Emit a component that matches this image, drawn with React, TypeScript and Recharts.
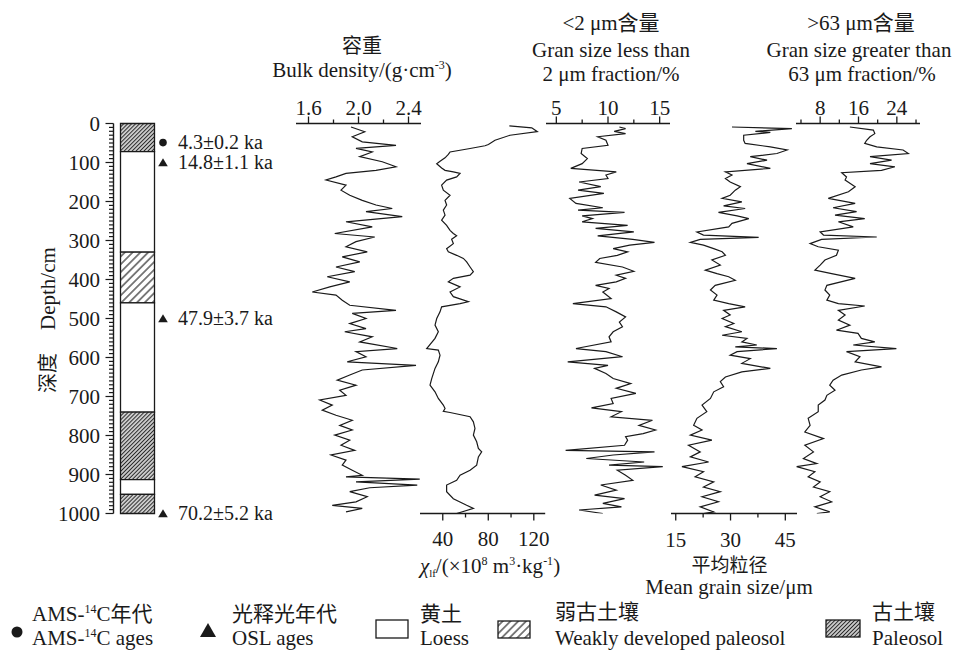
import React from 'react';
import { LineChart, Line, XAxis, YAxis, ComposedChart, ReferenceArea, ReferenceDot } from 'recharts';

const W = 957;
const H = 654;
const PLOT_TOP = 123.5;
const PLOT_BOTTOM = 513.5;
const SERIF = '"Liberation Serif", "Times New Roman", "Noto Sans CJK SC", serif';
const INK = '#1a1a1a';

// ---------- stratigraphy ----------
const layerTops = [0, 72, 330, 460, 740, 913, 951];
const layerBottoms = [72, 330, 460, 740, 913, 951, 1000];
const layerTypes = ['paleosol', 'loess', 'weak', 'loess', 'paleosol', 'loess', 'paleosol'];

const ageDepths = [49, 100, 500, 1000];
const ageLabels = ['4.3±0.2 ka', '14.8±1.1 ka', '47.9±3.7 ka', '70.2±5.2 ka'];
const ageKinds = ['AMS', 'OSL', 'OSL', 'OSL'];

const depthMajor = [0, 100, 200, 300, 400, 500, 600, 700, 800, 900, 1000];
const depthTicks = Array.from({ length: 101 }, (_, i) => i * 10);

// ---------- bulk density (g/cm3) ----------
const bdDepth = [9, 21, 34, 47, 56, 64, 73, 85, 98, 111, 120, 128, 137, 145, 158, 171, 184, 197, 209, 218, 226, 239, 252, 265, 282, 291, 303, 316, 329, 342, 355, 368, 380, 393, 406, 419, 432, 440, 453, 466, 479, 487, 500, 513, 526, 534, 547, 560, 577, 585, 598, 611, 620, 632, 645, 658, 671, 684, 697, 709, 722, 735, 748, 761, 774, 786, 799, 812, 825, 838, 850, 863, 876, 889, 902, 906, 912, 919, 927, 934, 944, 957, 970, 979, 987, 996];
const bdValue = [1.94, 2.05, 1.95, 2.03, 2.30, 1.98, 2.11, 2.01, 2.19, 2.30, 2.14, 1.90, 1.82, 1.74, 1.90, 1.86, 1.93, 2.03, 2.14, 2.27, 2.06, 2.35, 1.90, 2.11, 1.81, 2.13, 1.98, 1.90, 2.07, 1.87, 2.01, 1.82, 1.97, 1.75, 1.93, 1.77, 1.63, 1.82, 1.87, 1.93, 2.30, 1.95, 2.06, 1.93, 2.06, 1.89, 2.11, 2.01, 2.31, 1.98, 2.06, 1.91, 2.46, 2.03, 1.93, 1.83, 1.98, 1.85, 1.90, 1.69, 1.79, 1.71, 1.82, 1.95, 1.85, 1.95, 1.81, 1.93, 1.86, 1.97, 1.78, 1.90, 1.87, 1.95, 2.03, 1.90, 2.49, 1.98, 2.47, 2.09, 1.93, 2.07, 1.98, 1.79, 2.03, 1.90];
const bdTicks = [1.6, 1.8, 2.0, 2.2, 2.4];
const bdMajor = [1.6, 2.0, 2.4];

// ---------- magnetic susceptibility ----------
const msDepth = [6, 11, 21, 30, 43, 54, 57, 64, 73, 79, 88, 97, 103, 114, 120, 124, 128, 137, 145, 158, 171, 184, 197, 209, 222, 235, 248, 261, 274, 282, 288, 297, 308, 321, 329, 338, 346, 355, 368, 380, 389, 397, 406, 419, 432, 444, 457, 462, 470, 483, 500, 517, 534, 551, 577, 581, 594, 611, 628, 654, 671, 688, 705, 722, 731, 738, 741, 752, 765, 782, 799, 816, 833, 842, 855, 876, 889, 902, 915, 927, 944, 962, 979, 987, 1000];
const msValue = [98.5, 118.2, 123.1, 99.1, 85.9, 80.1, 77.1, 64.0, 46.4, 44.9, 42.0, 37.6, 34.7, 39.0, 42.0, 49.3, 55.2, 52.2, 43.4, 39.0, 40.5, 46.4, 42.0, 43.4, 40.5, 42.0, 39.0, 43.4, 46.4, 49.3, 52.2, 47.8, 49.3, 43.4, 44.9, 52.2, 58.1, 61.0, 64.0, 66.9, 64.0, 49.3, 44.9, 55.2, 46.4, 49.3, 62.5, 55.2, 39.0, 37.6, 34.7, 33.2, 36.1, 33.2, 25.9, 36.1, 37.6, 36.1, 33.2, 30.3, 28.8, 33.2, 36.1, 40.5, 42.0, 40.5, 46.4, 64.0, 66.9, 68.3, 66.9, 69.8, 71.3, 74.2, 71.3, 69.8, 64.0, 55.2, 52.2, 43.4, 43.4, 49.3, 61.0, 66.9, 52.2];
const msTicks = [40, 60, 80, 100, 120];
const msMajor = [40, 80, 120];

// ---------- < 2 um fraction (%) ----------
const clayDepth = [9, 13, 20, 26, 34, 43, 56, 64, 77, 90, 103, 115, 124, 132, 141, 150, 162, 171, 179, 192, 205, 216, 222, 228, 237, 244, 252, 261, 269, 278, 288, 297, 305, 312, 321, 329, 338, 346, 356, 368, 379, 389, 397, 406, 415, 423, 432, 449, 462, 470, 483, 496, 509, 521, 534, 547, 560, 577, 585, 598, 611, 620, 628, 641, 654, 667, 679, 692, 705, 718, 729, 739, 752, 761, 774, 786, 795, 803, 812, 825, 838, 842, 850, 859, 868, 876, 880, 889, 902, 915, 927, 940, 953, 962, 974, 983, 991, 1000];
const clayValue = [11.1, 11.7, 10.6, 11.7, 9.0, 9.8, 10.0, 7.5, 7.4, 8.0, 7.5, 6.4, 10.8, 9.8, 10.0, 7.2, 9.3, 7.1, 9.6, 6.3, 6.9, 9.5, 7.1, 11.6, 7.5, 8.5, 7.5, 11.9, 8.8, 12.5, 9.0, 12.4, 14.5, 12.1, 10.5, 11.9, 10.9, 9.2, 8.8, 11.4, 12.5, 10.8, 11.7, 10.8, 8.8, 10.1, 9.5, 10.3, 6.6, 9.8, 10.8, 11.7, 11.1, 11.4, 10.5, 10.1, 10.3, 6.9, 9.8, 11.4, 6.1, 10.0, 8.7, 9.8, 10.5, 12.2, 10.8, 12.7, 10.3, 10.5, 8.4, 11.3, 10.3, 14.3, 13.0, 14.6, 13.4, 11.7, 11.9, 11.6, 5.9, 14.5, 10.5, 7.9, 13.5, 10.1, 15.3, 10.9, 11.7, 12.4, 9.3, 10.8, 8.7, 11.6, 9.5, 11.3, 7.2, 9.5];
const clayTicks = [5, 7.5, 10, 12.5, 15];
const clayMajor = [5, 10, 15];

// ---------- mean grain size (um) ----------
const mgsDepth = [9, 13, 20, 23, 30, 43, 51, 60, 68, 77, 85, 94, 103, 115, 124, 132, 141, 150, 155, 162, 171, 184, 192, 201, 211, 218, 228, 237, 244, 256, 265, 278, 286, 292, 297, 305, 312, 321, 329, 338, 350, 363, 376, 385, 393, 402, 408, 415, 427, 440, 453, 462, 470, 479, 491, 500, 513, 521, 534, 543, 551, 560, 568, 573, 577, 585, 594, 603, 615, 628, 637, 650, 662, 675, 688, 705, 722, 739, 756, 774, 786, 799, 812, 825, 842, 855, 868, 880, 893, 906, 919, 932, 944, 957, 970, 983, 996, 1000];
const mgsValue = [30.4, 46.8, 36.8, 40.9, 33.6, 33.6, 34.0, 40.9, 45.5, 42.7, 35.4, 40.0, 34.5, 40.9, 28.6, 30.4, 28.6, 29.9, null, 32.7, 31.3, 29.9, 27.7, 33.1, 28.1, 34.0, 26.7, 31.8, 35.0, 30.4, 29.5, 20.8, 22.6, 37.7, 21.7, 19.0, 22.6, 25.4, 27.7, 28.6, 24.9, 27.2, 23.1, 26.3, 29.5, 31.3, null, 25.8, 24.5, 26.3, 25.4, 29.5, 34.0, 28.1, 29.9, 27.7, 30.9, 28.6, 33.1, 27.7, 34.5, 33.1, 37.2, 31.3, 42.7, 31.8, 29.9, 35.4, 33.1, 40.9, 33.1, 28.6, 27.2, 28.1, 25.4, 24.5, 22.2, 23.5, 20.8, 19.9, 22.2, 19.0, 24.9, 18.5, 21.7, 19.0, 24.0, 16.7, 22.6, 20.3, 25.4, 22.6, 27.2, 22.2, 26.7, 21.7, 25.4, 22.6];
const mgsTicks = [15, 22.5, 30, 37.5, 45];
const mgsMajor = [15, 30, 45];

// ---------- > 63 um fraction (%) ----------
const sandDepth = [9, 17, 26, 34, 43, 51, 60, 68, 77, 85, 94, 103, 111, 120, 126, 137, 145, 152, 162, 175, 192, 205, 216, 226, 235, 244, 252, 265, 278, 286, 291, 297, 308, 316, 325, 338, 350, 363, 376, 385, 397, 406, 415, 427, 440, 453, 462, 468, 479, 491, 504, 517, 530, 538, 551, 560, 568, 577, 585, 598, 611, 624, 632, 645, 658, 671, 684, 697, 709, 722, 739, 756, 774, 791, 808, 825, 842, 859, 872, 880, 893, 906, 919, 932, 944, 957, 970, 983, 996, 1000];
const sandValue = [14.2, 19.1, 19.4, 18.4, 17.7, 17.3, 19.8, 25.3, 26.4, 18.4, 22.9, 18.4, 23.6, 20.8, 12.5, 13.5, 13.2, null, 15.3, 13.9, 9.7, 15.3, 10.7, 15.6, 11.1, 17.3, 11.8, 14.9, 8.0, 8.7, 19.8, 8.3, 5.9, 7.6, 11.8, 11.4, 9.0, 8.0, 6.9, 10.4, 15.3, null, 9.4, 9.0, 10.0, 9.4, 11.8, 17.3, 11.8, 13.2, 11.8, 14.2, 11.4, 15.9, 16.6, 19.4, 14.9, 23.9, 13.5, 16.3, 15.3, 20.8, 16.6, 12.5, 10.7, 10.0, 11.1, 9.4, 9.0, 7.6, 7.6, 5.5, 5.9, 4.8, 8.7, 4.8, 6.6, 4.5, 7.3, 3.1, 6.9, 5.5, 8.0, 6.6, 10.0, 8.0, 10.4, 6.9, 10.0, 7.3];
const sandTicks = [4, 8, 12, 16, 20, 24, 28];
const sandMajor = [8, 16, 24];

const zip = (d: number[], v: (number | null)[]) => d.map((depth, i) => ({ depth, v: v[i] }));

const isMajor = (majors: number[], v: number) => majors.some((m) => Math.abs(m - v) < 1e-6);

const makeTick = (majors: number[], digits: number, orient: 'top' | 'bottom') => (p: any) => {
  const { x, y, payload } = p;
  const v = payload.value as number;
  const major = isMajor(majors, v);
  const dir = orient === 'top' ? -1 : 1;
  const len = major ? 7 : 4;
  return (
    <g>
      <line x1={x} x2={x} y1={y} y2={y + dir * len} stroke={INK} strokeWidth={1.3} />
      {major && (
        <text
          x={x}
          y={orient === 'top' ? y - 9 : y + 33}
          textAnchor="middle"
          fontFamily={SERIF}
          fontSize={21}
          fill={INK}
        >
          {v.toFixed(digits)}
        </text>
      )}
    </g>
  );
};

const depthTick = (p: any) => {
  const { x, y, payload } = p;
  const v = payload.value as number;
  const major = depthMajor.includes(v);
  return (
    <g>
      <line x1={x - (major ? 8 : 4.5)} x2={x} y1={y} y2={y} stroke={INK} strokeWidth={1.2} />
      {major && (
        <text x={x - 13.5} y={y + 7} textAnchor="end" fontFamily={SERIF} fontSize={21} fill={INK}>
          {v}
        </text>
      )}
    </g>
  );
};

type ProfileProps = {
  depth: number[];
  value: (number | null)[];
  domain: [number, number];
  ticks: number[];
  majors: number[];
  digits: number;
  x0: number;
  x1: number;
  orient: 'top' | 'bottom';
};

function Profile({ depth, value, domain, ticks, majors, digits, x0, x1, orient }: ProfileProps) {
  const ml = 20;
  const mr = 20;
  const axisH = 30;
  const width = x1 - x0 + ml + mr;
  const margin =
    orient === 'top'
      ? { top: PLOT_TOP - axisH, bottom: H - PLOT_BOTTOM, left: ml, right: mr }
      : { top: PLOT_TOP, bottom: H - PLOT_BOTTOM - axisH, left: ml, right: mr };
  return (
    <div style={{ position: 'absolute', left: x0 - ml, top: 0 }}>
      <LineChart width={width} height={H} data={zip(depth, value)} layout="vertical" margin={margin}>
        <XAxis
          type="number"
          orientation={orient}
          domain={domain}
          ticks={ticks}
          interval={0}
          allowDataOverflow
          height={axisH}
          tickSize={0}
          tickMargin={0}
          tickLine={false}
          tick={makeTick(majors, digits, orient)}
          axisLine={{ stroke: INK, strokeWidth: 1.3 }}
        />
        <YAxis type="number" dataKey="depth" domain={[0, 1000]} allowDataOverflow hide />
        <Line
          type="linear"
          dataKey="v"
          stroke={INK}
          strokeWidth={1.2}
          dot={false}
          isAnimationActive={false}
        />
      </LineChart>
    </div>
  );
}

const patternFor = (t: string) => (t === 'paleosol' ? 'url(#hatchDense)' : t === 'weak' ? 'url(#hatchWeak)' : '#ffffff');

const ageShape = (kind: string, label: string) => (p: any) => {
  const { cx, cy } = p;
  return (
    <g>
      {kind === 'AMS' ? (
        <circle cx={cx} cy={cy} r={3.8} fill={INK} />
      ) : (
        <polygon points={`${cx - 4.8},${cy + 3.8} ${cx + 4.8},${cy + 3.8} ${cx},${cy - 4.2}`} fill={INK} />
      )}
      <text x={cx + 15} y={cy + 6.5} fontFamily={SERIF} fontSize={20} fill={INK}>
        {label}
      </text>
    </g>
  );
};

function Column() {
  const axisX = 113.5;
  const plotW = 100;
  const width = 300;
  return (
    <div style={{ position: 'absolute', left: 0, top: 0 }}>
      <ComposedChart
        width={width}
        height={H}
        layout="vertical"
        margin={{ top: PLOT_TOP, bottom: H - PLOT_BOTTOM, left: 0, right: width - axisX - plotW }}
      >
        <XAxis type="number" dataKey="pos" domain={[0, 100]} allowDataOverflow hide />
        <YAxis
          type="number"
          dataKey="depth"
          domain={[0, 1000]}
          ticks={depthTicks}
          interval={0}
          allowDataOverflow
          width={axisX}
          tickSize={0}
          tickMargin={0}
          tickLine={false}
          tick={depthTick}
          axisLine={{ stroke: INK, strokeWidth: 1.4 }}
        />
        {layerTops.map((top, i) => (
          <ReferenceArea
            key={`l${i}`}
            x1={7}
            x2={41}
            y1={top}
            y2={layerBottoms[i]}
            fill={patternFor(layerTypes[i])}
            fillOpacity={1}
            stroke={INK}
            strokeWidth={1.3}
            ifOverflow="visible"
          />
        ))}
        {ageDepths.map((d, i) => (
          <ReferenceDot
            key={`a${i}`}
            x={49.5}
            y={d}
            r={4}
            ifOverflow="visible"
            shape={ageShape(ageKinds[i], ageLabels[i])}
          />
        ))}
      </ComposedChart>
    </div>
  );
}

const T = (props: any) => <text fontFamily={SERIF} fontSize={21} fill={INK} {...props} />;

function Overlay() {
  return (
    <svg width={W} height={H} style={{ position: 'absolute', left: 0, top: 0, pointerEvents: 'none' }}>
      {/* depth label */}
      <g transform="translate(55,320) rotate(-90)">
        <T x={-73} y={0} fontSize={20}>深度</T>
        <T x={-10} y={0}>Depth/cm</T>
      </g>

      {/* top titles */}
      <T x={362} y={53} textAnchor="middle" fontSize={20}>容重</T>
      <T x={362} y={77} textAnchor="middle">
        <tspan>Bulk density/(g·cm</tspan>
        <tspan dy={-8} fontSize={12}>-3</tspan>
        <tspan dy={8}>)</tspan>
      </T>

      <T x={611} y={30} textAnchor="middle">&lt;2 μm含量</T>
      <T x={611} y={57} textAnchor="middle">Gran size less than</T>
      <T x={611} y={81} textAnchor="middle">2 μm fraction/%</T>

      <T x={861} y={30} textAnchor="middle">&gt;63 μm含量</T>
      <T x={859} y={57} textAnchor="middle">Gran size greater than</T>
      <T x={862} y={81} textAnchor="middle">63 μm fraction/%</T>

      {/* bottom titles */}
      <T x={490} y={573} textAnchor="middle">
        <tspan fontStyle="italic">χ</tspan>
        <tspan fontSize={11} dy={4}>lf</tspan>
        <tspan dy={-4}>/(×10</tspan>
        <tspan fontSize={12} dy={-8}>8</tspan>
        <tspan dy={8}> m</tspan>
        <tspan fontSize={12} dy={-8}>3</tspan>
        <tspan dy={8}>·kg</tspan>
        <tspan fontSize={12} dy={-8}>-1</tspan>
        <tspan dy={8}>)</tspan>
      </T>
      <T x={729.5} y={572} textAnchor="middle" fontSize={19}>平均粒径</T>
      <T x={729} y={594} textAnchor="middle">Mean grain size/μm</T>

      {/* legend */}
      <circle cx={17} cy={632} r={5.5} fill={INK} />
      <T x={32} y={621}>
        <tspan>AMS-</tspan>
        <tspan fontSize={12} dy={-8}>14</tspan>
        <tspan dy={8}>C年代</tspan>
      </T>
      <T x={32} y={645}>
        <tspan>AMS-</tspan>
        <tspan fontSize={12} dy={-8}>14</tspan>
        <tspan dy={8}>C  ages</tspan>
      </T>

      <polygon points="200,637 216,637 208,623" fill={INK} />
      <T x={232} y={621}>光释光年代</T>
      <T x={232} y={645}>OSL ages</T>

      <rect x={376} y={620} width={32} height={18} fill="#fff" stroke={INK} strokeWidth={1.3} />
      <T x={420} y={621}>黄土</T>
      <T x={420} y={645}>Loess</T>

      <rect x={498} y={621} width={32} height={17} fill="url(#hatchWeak)" stroke={INK} strokeWidth={1.3} />
      <T x={555} y={619}>弱古土壤</T>
      <T x={555} y={645}>Weakly developed paleosol</T>

      <rect x={826} y={620} width={34} height={17} fill="url(#hatchDense)" stroke={INK} strokeWidth={1.3} />
      <T x={872} y={619}>古土壤</T>
      <T x={872} y={645}>Paleosol</T>
    </svg>
  );
}

export default function App() {
  return (
    <div
      style={{
        position: 'absolute',
        left: 0,
        top: 0,
        width: W,
        height: H,
        background: '#fff',
        overflow: 'hidden',
        fontFamily: SERIF,
      }}
    >
      <svg width={0} height={0} style={{ position: 'absolute' }}>
        <defs>
          <pattern id="hatchDense" patternUnits="userSpaceOnUse" width={2.8} height={2.8} patternTransform="rotate(45)">
            <rect width={2.8} height={2.8} fill="#ffffff" />
            <line x1={1.4} y1={0} x2={1.4} y2={2.8} stroke="#2a2a2a" strokeWidth={1.4} />
          </pattern>
          <pattern id="hatchWeak" patternUnits="userSpaceOnUse" width={5.5} height={5.5} patternTransform="rotate(45)">
            <rect width={5.5} height={5.5} fill="#ffffff" />
            <line x1={2.75} y1={0} x2={2.75} y2={5.5} stroke="#1a1a1a" strokeWidth={1.1} />
          </pattern>
        </defs>
      </svg>

      <Column />
      <Profile depth={bdDepth} value={bdValue} domain={[1.5, 2.5]} ticks={bdTicks} majors={bdMajor} digits={1} x0={295.5} x1={420.5} orient="top" />
      <Profile depth={msDepth} value={msValue} domain={[20, 130]} ticks={msTicks} majors={msMajor} digits={0} x0={420.3} x1={545.5} orient="bottom" />
      <Profile depth={clayDepth} value={clayValue} domain={[4, 16]} ticks={clayTicks} majors={clayMajor} digits={0} x0={546.3} x1={670.3} orient="top" />
      <Profile depth={mgsDepth} value={mgsValue} domain={[13.7, 48.2]} ticks={mgsTicks} majors={mgsMajor} digits={0} x0={670.7} x1={796.7} orient="bottom" />
      <Profile depth={sandDepth} value={sandValue} domain={[2.96, 28.83]} ticks={sandTicks} majors={sandMajor} digits={0} x0={796} x1={920} orient="top" />
      <Overlay />
    </div>
  );
}
